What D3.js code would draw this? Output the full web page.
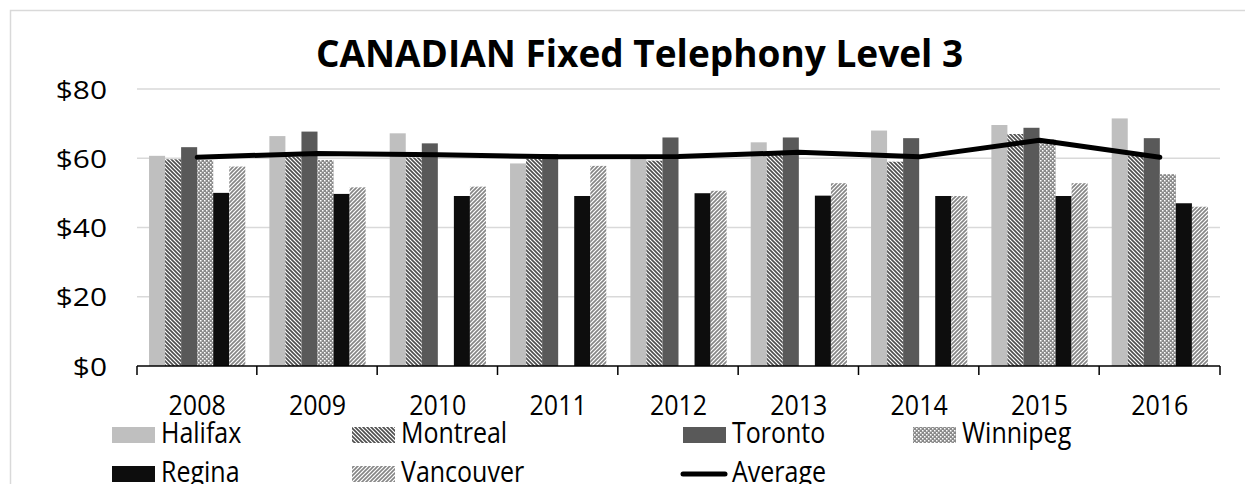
<!DOCTYPE html>
<html lang="en">
<head>
<meta charset="utf-8">
<script src="https://d3js.org/d3.v7.min.js"></script>
<style>
  body { margin: 0; background: #fff; }
  text { font-family: "Open Sans", sans-serif; fill: #000; }
</style>
</head>
<body>
<script>
// data
var years = ["2008", "2009", "2010", "2011", "2012", "2013", "2014", "2015", "2016"];
var seriesNames = ["Halifax", "Montreal", "Toronto", "Winnipeg", "Regina", "Vancouver"];
var halifax   = [60.7, 66.4, 67.2, 58.5, 60.2, 64.6, 68.0, 69.6, 71.5];
var montreal  = [59.7, 60.5, 60.2, 59.8, 59.3, 61.0, 59.0, 67.0, 60.8];
var toronto   = [63.2, 67.7, 64.3, 61.2, 66.0, 66.0, 65.8, 68.8, 65.8];
var winnipeg  = [59.5, 59.5, null, null, null, null, null, 65.5, 55.4];
var regina    = [50.0, 49.7, 49.1, 49.1, 49.9, 49.2, 49.1, 49.1, 47.0];
var vancouver = [57.6, 51.6, 51.8, 57.8, 50.6, 52.8, 49.1, 52.8, 46.0];
var average   = [60.3, 61.4, 61.0, 60.4, 60.5, 61.7, 60.4, 65.2, 60.3];
var yTicks = [0, 20, 40, 60, 80];
var title = "CANADIAN Fixed Telephony Level 3";

var seriesValues = [halifax, montreal, toronto, winnipeg, regina, vancouver];

var width = 1245, height = 484;

var svg = d3.select("body").append("svg")
    .attr("width", width)
    .attr("height", height);

// fill patterns
var defs = svg.append("defs");

var pMon = defs.append("pattern").attr("id", "p-montreal")
    .attr("patternUnits", "userSpaceOnUse").attr("width", 4).attr("height", 4);
pMon.append("rect").attr("width", 4).attr("height", 4).attr("fill", "#fff");
pMon.append("path").attr("d", "M-1,-1L5,5M-1,3L1,5M3,-1L5,1")
    .attr("stroke", "#4d4d4d").attr("stroke-width", 1.6);

var pVan = defs.append("pattern").attr("id", "p-vancouver")
    .attr("patternUnits", "userSpaceOnUse").attr("width", 4).attr("height", 4);
pVan.append("rect").attr("width", 4).attr("height", 4).attr("fill", "#fff");
pVan.append("path").attr("d", "M-1,5L5,-1M-1,1L1,-1M3,5L5,3")
    .attr("stroke", "#858585").attr("stroke-width", 1.6);

var pWin = defs.append("pattern").attr("id", "p-winnipeg")
    .attr("patternUnits", "userSpaceOnUse").attr("width", 4).attr("height", 4);
pWin.append("rect").attr("width", 4).attr("height", 4).attr("fill", "#8a8a8a");
pWin.append("rect").attr("x", 0).attr("y", 0).attr("width", 1.5).attr("height", 1.5).attr("fill", "#fff");
pWin.append("rect").attr("x", 2).attr("y", 2).attr("width", 1.5).attr("height", 1.5).attr("fill", "#fff");

var fills = {
  "Halifax": "#bfbfbf",
  "Montreal": "url(#p-montreal)",
  "Toronto": "#595959",
  "Winnipeg": "url(#p-winnipeg)",
  "Regina": "#0d0d0d",
  "Vancouver": "url(#p-vancouver)"
};

// chart border
svg.append("rect")
    .attr("x", 10.5).attr("y", 10.5)
    .attr("width", 1260).attr("height", 500)
    .attr("fill", "none")
    .attr("stroke", "#d9d9d9")
    .attr("stroke-width", 1.5);

// the picture's fonts are a bit wider / taller than Open Sans, so scale the glyphs
function stretchedText(g, x, y, str, sx, sy) {
  return g.append("text")
      .attr("transform", "translate(" + x + "," + y + ") scale(" + sx + "," + sy + ")")
      .text(str);
}

// scales
var x0 = d3.scaleBand().domain(years).range([137, 1220])
    .paddingInner(0.2).paddingOuter(0.1);
var x1 = d3.scaleBand().domain(seriesNames).range([0, x0.bandwidth()]);
var y = d3.scaleLinear().domain([0, 80]).range([366, 89]);

// gridlines
svg.append("g").selectAll("line")
    .data(yTicks.filter(function(d) { return d > 0; }))
    .enter().append("line")
    .attr("x1", 137).attr("x2", 1220)
    .attr("y1", function(d) { return y(d); })
    .attr("y2", function(d) { return y(d); })
    .attr("stroke", "#d9d9d9")
    .attr("stroke-width", 1.5);

// y labels
var yLab = svg.append("g").attr("font-size", "26px").attr("text-anchor", "end");
yTicks.forEach(function(t) {
  stretchedText(yLab, 107, y(t) + 9.5, "$" + t, 1.15, 1.0);
});

// bars
var bars = [];
seriesNames.forEach(function(name, si) {
  seriesValues[si].forEach(function(v, i) {
    if (v !== null) bars.push({ series: name, year: years[i], value: v });
  });
});

svg.append("g").selectAll("rect")
    .data(bars)
    .enter().append("rect")
    .attr("x", function(d) { return x0(d.year) + x1(d.series); })
    .attr("width", x1.bandwidth())
    .attr("y", function(d) { return y(d.value); })
    .attr("height", function(d) { return y(0) - y(d.value); })
    .attr("fill", function(d) { return fills[d.series]; });

// x axis
var xAxis = svg.append("g");
xAxis.append("line")
    .attr("x1", 137).attr("x2", 1220)
    .attr("y1", y(0)).attr("y2", y(0))
    .attr("stroke", "#000").attr("stroke-width", 1.5);
var bounds = years.map(function(d) { return x0(d) - x0.step() * x0.paddingInner() / 2 - 0.5; });
bounds[0] = 137;
bounds.push(1220);
xAxis.selectAll(".tick").data(bounds).enter().append("line")
    .attr("x1", function(d) { return d; }).attr("x2", function(d) { return d; })
    .attr("y1", y(0)).attr("y2", y(0) + 9)
    .attr("stroke", "#000").attr("stroke-width", 1.5);
var xLab = xAxis.append("g").attr("font-size", "25px").attr("text-anchor", "middle");
years.forEach(function(yr) {
  stretchedText(xLab, x0(yr) + x0.bandwidth() / 2, 415, yr, 1.0, 1.12);
});

// average line
var line = d3.line()
    .x(function(d, i) { return x0(years[i]) + x0.bandwidth() / 2; })
    .y(function(d) { return y(d); });
svg.append("path")
    .datum(average)
    .attr("d", line)
    .attr("fill", "none")
    .attr("stroke", "#000")
    .attr("stroke-width", 5)
    .attr("stroke-linecap", "round")
    .attr("stroke-linejoin", "round");

// title
var tg = svg.append("g").attr("font-size", "37px").attr("font-weight", "bold").attr("text-anchor", "middle");
stretchedText(tg, 639.5, 67, title, 1.0, 1.0);

// legend
var legendItems = seriesNames.concat(["Average"]);
var legendCols = [112, 352, 683, 913];
var legend = svg.append("g").attr("font-size", "25px");
legendItems.forEach(function(name, i) {
  var lx = legendCols[i % 4];
  var ly = 427 + Math.floor(i / 4) * 39;
  if (name === "Average") {
    legend.append("line")
        .attr("x1", lx).attr("x2", lx + 42)
        .attr("y1", ly + 8).attr("y2", ly + 8)
        .attr("stroke", "#000").attr("stroke-width", 5)
        .attr("stroke-linecap", "round");
  } else {
    legend.append("rect")
        .attr("x", lx).attr("y", ly)
        .attr("width", 43).attr("height", 16)
        .attr("fill", fills[name]);
  }
  stretchedText(legend, lx + 49, ly + 16, name, 1.0, 1.18);
});
</script>
</body>
</html>
